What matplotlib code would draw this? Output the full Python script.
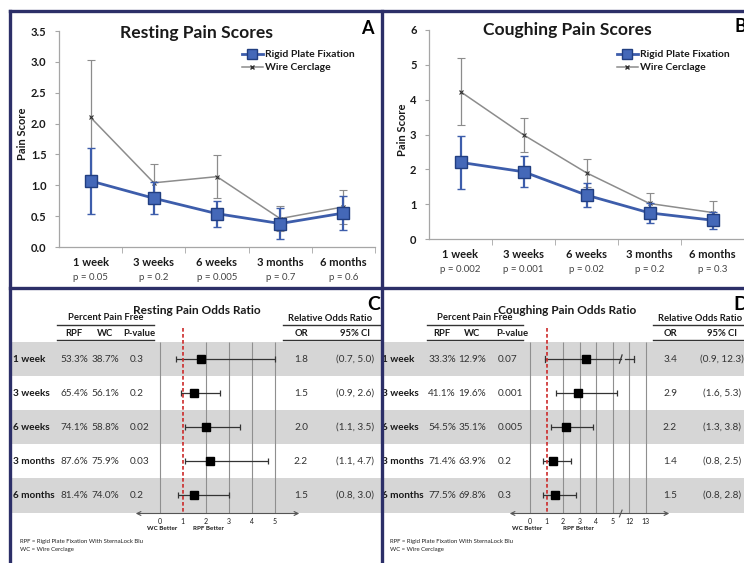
import numpy as np
import matplotlib
matplotlib.use('Agg')
import matplotlib.pyplot as plt
from matplotlib.lines import Line2D
from matplotlib.patches import Rectangle

plt.rcParams['font.family'] = ['Lato', 'DejaVu Sans']

# ---------------- data ----------------
timepoints = ['1 week', '3 weeks', '6 weeks', '3 months', '6 months']

rest_rpf = [1.07, 0.79, 0.54, 0.38, 0.55]
rest_rpf_err = [0.53, 0.26, 0.21, 0.25, 0.28]
rest_wc = [2.10, 1.04, 1.14, 0.46, 0.65]
rest_wc_err = [0.93, 0.30, 0.35, 0.20, 0.28]
rest_p = ['0.05', '0.2', '0.005', '0.7', '0.6']

cough_rpf = [2.20, 1.93, 1.26, 0.75, 0.54]
cough_rpf_err = [0.77, 0.44, 0.35, 0.28, 0.24]
cough_wc = [4.23, 2.99, 1.90, 1.02, 0.76]
cough_wc_err = [0.97, 0.49, 0.41, 0.31, 0.33]
cough_p = ['0.002', '0.001', '0.02', '0.2', '0.3']

rest_pct_rpf = [53.3, 65.4, 74.1, 87.6, 81.4]
rest_pct_wc = [38.7, 56.1, 58.8, 75.9, 74.0]
rest_pval = ['0.3', '0.2', '0.02', '0.03', '0.2']
rest_or = [1.8, 1.5, 2.0, 2.2, 1.5]
rest_lo = [0.7, 0.9, 1.1, 1.1, 0.8]
rest_hi = [5.0, 2.6, 3.5, 4.7, 3.0]

cough_pct_rpf = [33.3, 41.1, 54.5, 71.4, 77.5]
cough_pct_wc = [12.9, 19.6, 35.1, 63.9, 69.8]
cough_pval = ['0.07', '0.001', '0.005', '0.2', '0.3']
cough_or = [3.4, 2.9, 2.2, 1.4, 1.5]
cough_lo = [0.9, 1.6, 1.3, 0.8, 0.8]
cough_hi = [12.3, 5.3, 3.8, 2.5, 2.8]

# ---------------- layout helpers ----------------
W, H = 744, 563
fig = plt.figure(figsize=(W / 100, H / 100), dpi=100)
fig.patch.set_facecolor('white')


def rect(x0, y0, x1, y1):
    """pixel box (top-left origin) -> figure fraction rect"""
    return [x0 / W, 1 - y1 / H, (x1 - x0) / W, (y1 - y0) / H]


NAVY = '#2c2f68'
BLUE = '#3d5dab'
BLUE_F = '#4468b8'
BLUE_E = '#213e80'
GRAY = '#8c8c8c'
TXT = '#1a1a1a'
BAND = '#d6d6d6'
TFS = 7.2   # table font size

# background pixel axes for tables / text
pax = fig.add_axes([0, 0, 1, 1], zorder=0)
pax.set_xlim(0, W)
pax.set_ylim(H, 0)
pax.axis('off')


def score_panel(box, vals_rpf, err_rpf, vals_wc, err_wc, pvals, ymax, ystep,
                yfmt, title, title_xy, letter, letter_xy, leg_xy, ylab_x, name_y, p_y):
    ax = fig.add_axes(rect(*box), zorder=1)
    ax.set_facecolor('none')
    x = np.arange(len(timepoints))
    ax.errorbar(x, vals_wc, yerr=err_wc, color=GRAY, lw=1.1, marker='x', ms=3.5,
                mec='#333333', mew=0.8, ecolor=GRAY, elinewidth=0.9, capsize=3,
                capthick=0.9, zorder=2)
    ax.errorbar(x, vals_rpf, yerr=err_rpf, color=BLUE, lw=2.0, marker='s', ms=8,
                mfc=BLUE_F, mec=BLUE_E, mew=1.0, ecolor=BLUE, elinewidth=1.6,
                capsize=3, capthick=1.4, zorder=3)
    ax.set_xlim(-0.5, len(timepoints) - 0.5)
    ax.set_ylim(0, ymax)
    ax.set_yticks(np.arange(0, ymax + 1e-9, ystep))
    ax.yaxis.set_major_formatter(matplotlib.ticker.FormatStrFormatter(yfmt))
    for s in ['top', 'right']:
        ax.spines[s].set_visible(False)
    for s in ['left', 'bottom']:
        ax.spines[s].set_color('#a6a6a6')
        ax.spines[s].set_linewidth(0.9)
    ax.tick_params(axis='y', length=3, color='#a6a6a6', labelsize=8, pad=6,
                   labelcolor=TXT)
    for lab in ax.get_yticklabels():
        lab.set_fontweight('bold')
    ax.set_xticks(x)
    ax.set_xticklabels([])
    ax.tick_params(axis='x', which='major', length=0)
    ax.set_xticks(np.arange(0.5, len(timepoints), 1.0), minor=True)
    ax.tick_params(axis='x', which='minor', length=4, color='#a6a6a6')
    bx0, by0, bx1, by1 = box
    for i, (nm, p) in enumerate(zip(timepoints, pvals)):
        px = bx0 + (bx1 - bx0) * (i + 0.5) / len(timepoints)
        pax.text(px, name_y, nm, ha='center', va='center', fontsize=8,
                 fontweight='bold', color=TXT)
        pax.text(px, p_y, 'p = ' + p, ha='center', va='center', fontsize=7,
                 color='#444444')
    pax.text(ylab_x, (by0 + by1) / 2 - 5, 'Pain Score', rotation=90, ha='center',
             va='center', fontsize=8, fontweight='bold', color=TXT)
    pax.text(title_xy[0], title_xy[1], title, ha='center', va='center',
             fontsize=12.6, fontweight='bold', color=TXT)
    pax.text(letter_xy[0], letter_xy[1], letter, ha='center', va='center',
             fontsize=13, fontweight='bold', color='black')
    handles = [Line2D([], [], color=BLUE, lw=2.0, marker='s', ms=7, mfc=BLUE_F,
                      mec=BLUE_E),
               Line2D([], [], color=GRAY, lw=1.1, marker='x', ms=3.5, mec='#333333')]
    leg = ax.legend(handles, ['Rigid Plate Fixation', 'Wire Cerclage'],
                    loc='upper left', bbox_to_anchor=(leg_xy[0] / W, 1 - leg_xy[1] / H),
                    bbox_transform=fig.transFigure, frameon=False,
                    prop={'size': 7.5, 'weight': 'bold'}, handlelength=2.0,
                    handletextpad=0.2, labelspacing=0.35, borderpad=0,
                    borderaxespad=0)
    for t in leg.get_texts():
        t.set_color(TXT)
    return ax


score_panel((59, 31, 375, 247), rest_rpf, rest_rpf_err, rest_wc, rest_wc_err,
            rest_p, 3.5, 0.5, '%.1f', 'Resting Pain Scores', (197, 33), 'A',
            (367, 28), (242, 50), 23, 263, 277)
score_panel((429, 30, 744, 239), cough_rpf, cough_rpf_err, cough_wc, cough_wc_err,
            cough_p, 6, 1, '%d', 'Coughing Pain Scores', (567, 30), 'B',
            (740, 26), (617, 50), 402, 254, 269)


# ---------------- forest panels ----------------
ROW_TOP = 342.0
ROW_H = 34.1


def forest_panel(x_left, x_right, cols, pct_rpf, pct_wc, pvals, ors, los, his,
                 title, title_x, letter, letter_x, fbox, x0px, unit, ticks,
                 tick_labels, brk, hdr_left, hdr_right, better_x, foot_x):
    n = len(timepoints)
    # row bands
    for i in range(n):
        if i % 2 == 0:
            pax.add_patch(Rectangle((x_left, ROW_TOP + i * ROW_H), x_right - x_left,
                                    ROW_H, facecolor=BAND, edgecolor='none', zorder=0))
    pax.text(title_x, 310, title, ha='center', va='center', fontsize=8.6,
             fontweight='bold', color=TXT)
    pax.text(letter_x, 305, letter, ha='center', va='center', fontsize=14,
             fontweight='bold', color='black')
    # headers
    pax.text((hdr_left[0] + hdr_left[1]) / 2, 318, 'Percent Pain Free', ha='center',
             va='center', fontsize=6.8, fontweight='bold', color=TXT)
    pax.text(cols['rel'], 318.5, 'Relative Odds Ratio', ha='center', va='center',
             fontsize=6.8, fontweight='bold', color=TXT)
    for yy in (324.5, 340):
        pax.plot(hdr_left, [yy, yy], color='#333333', lw=1.0)
        pax.plot(hdr_right, [yy, yy], color='#333333', lw=1.0)
    for key, lab in (('rpf', 'RPF'), ('wc', 'WC'), ('ph', 'P-value'), ('or', 'OR'),
                     ('ci', '95% CI')):
        pax.text(cols[key], 333, lab, ha='center', va='center', fontsize=6.8,
                 fontweight='bold', color=TXT)
    for i in range(n):
        yy = ROW_TOP + (i + 0.5) * ROW_H
        pax.text(cols['lab'], yy, timepoints[i], ha='left', va='center', fontsize=TFS,
                 fontweight='bold', color=TXT)
        pax.text(cols['rpf'], yy, '%.1f%%' % pct_rpf[i], ha='center', va='center',
                 fontsize=TFS, color='#333333')
        pax.text(cols['wc'], yy, '%.1f%%' % pct_wc[i], ha='center', va='center',
                 fontsize=TFS, color='#333333')
        pax.text(cols['p'], yy, pvals[i], ha='left', va='center', fontsize=TFS,
                 color='#333333')
        pax.text(cols['or'], yy, '%.1f' % ors[i], ha='center', va='center',
                 fontsize=TFS, color='#333333')
        pax.text(cols['ci'], yy, '(%.1f, %.1f)' % (los[i], his[i]), ha='center',
                 va='center', fontsize=TFS, color='#333333')
    pax.text(better_x[0], 528, 'WC Better', ha='center', va='center', fontsize=4.5,
             fontweight='bold', color=TXT)
    pax.text(better_x[1], 528, 'RPF Better', ha='center', va='center', fontsize=4.5,
             fontweight='bold', color=TXT)
    pax.text(foot_x, 541, 'RPF = Rigid Plate Fixation With SternaLock Blu',
             ha='left', va='center', fontsize=4.3, color='#222222')
    pax.text(foot_x, 550, 'WC = Wire Cerclage', ha='left', va='center',
             fontsize=4.3, color='#222222')

    # forest axes: data coordinates
    fx0, fy0, fx1, fy1 = fbox
    fa = fig.add_axes(rect(fx0, fy0, fx1, fy1), zorder=2)
    fa.set_facecolor('none')
    fa.set_xlim((fx0 - x0px) / unit, (fx1 - x0px) / unit)
    y_top = -0.5 - (ROW_TOP - fy0) / ROW_H
    y_bot = n - 0.5 + (fy1 - (ROW_TOP + n * ROW_H)) / ROW_H
    fa.set_ylim(y_bot, y_top)
    tpos = [brk(t) for t in ticks]
    fa.vlines([tp for tp, t in zip(tpos, ticks) if t != 1], -0.5, n - 0.5,
              color='#8f8f8f', lw=0.8, zorder=1)
    fa.vlines(brk(1), y_top, n - 0.5, color='#cc2a2a', lw=1.2,
              linestyles=(0, (2.2, 1.4)), zorder=3)
    rows = np.arange(n)
    for i in rows:
        lo, hi, o = los[i], his[i], ors[i]
        if hi > 6:
            fa.plot([brk(lo), 5.5], [i, i], color='#333333', lw=0.9, zorder=2)
            fa.plot([5.75, brk(hi)], [i, i], color='#333333', lw=0.9, zorder=2)
            fa.plot([brk(lo), brk(lo)], [i - 0.09, i + 0.09], color='#333333',
                    lw=0.9)
            fa.plot([brk(hi), brk(hi)], [i - 0.09, i + 0.09], color='#333333',
                    lw=0.9)
            fa.plot([5.42, 5.58], [i + 0.12, i - 0.12], color='#333333', lw=0.9)
        else:
            fa.errorbar([o], [i], xerr=[[o - lo], [hi - o]], fmt='none',
                        ecolor='#333333', elinewidth=0.9, capsize=2.5,
                        capthick=0.9, zorder=2)
    fa.plot(ors, rows, 's', color='black', ms=6, zorder=4, linestyle='none')
    y_arrow = n - 0.5 + 1.0 / ROW_H
    fa.annotate('', xy=(fa.get_xlim()[0], y_arrow), xytext=(fa.get_xlim()[1], y_arrow),
                arrowprops=dict(arrowstyle='<->', color='#555555', lw=0.8,
                                mutation_scale=7), annotation_clip=False)
    if max(ticks) > 6:
        fa.plot([5.42, 5.58], [y_arrow + 0.1, y_arrow - 0.1], color='#555555',
                lw=0.8, clip_on=False)
    fa.set_xticks(tpos)
    fa.set_xticklabels(tick_labels, fontsize=5, color=TXT)
    fa.tick_params(axis='x', length=0, pad=2)
    fa.set_yticks([])
    for s in fa.spines.values():
        s.set_visible(False)
    return fa


forest_panel(12, 381,
             {'lab': 13, 'rpf': 74, 'wc': 105, 'p': 130, 'ph': 139, 'or': 301,
              'ci': 355, 'rel': 330},
             rest_pct_rpf, rest_pct_wc, rest_pval, rest_or, rest_lo, rest_hi,
             'Resting Pain Odds Ratio', 197, 'C', 374,
             (133, 328, 302, 515), 160.0, 22.9, [0, 1, 2, 3, 4, 5],
             ['0', '1', '2', '3', '4', '5'], lambda v: v,
             (57, 154), (283, 381), (162, 208), 20)

forest_panel(384, 744,
             {'lab': 382, 'rpf': 442, 'wc': 472, 'p': 498, 'ph': 512, 'or': 670,
              'ci': 722, 'rel': 700},
             cough_pct_rpf, cough_pct_wc, cough_pval, cough_or, cough_lo, cough_hi,
             'Coughing Pain Odds Ratio', 567, 'D', 741,
             (507, 328, 672, 515), 530.0, 16.5, [0, 1, 2, 3, 4, 5, 12, 13],
             ['0', '1', '2', '3', '4', '5', '12', '13'],
             lambda v: v if v <= 6 else v - 6,
             (427, 523), (653, 744), (527, 578), 390)

# ---------------- panel borders ----------------
for xs, ys in (([10, W], [11, 11]), ([10, W], [288, 288]), ([10, 10], [11, H]),
               ([382, 382], [11, H])):
    fig.add_artist(Line2D([x / W for x in xs], [1 - y / H for y in ys], color=NAVY,
                          lw=2.4, zorder=10, solid_capstyle='projecting'))

fig.savefig('out.png', dpi=100, facecolor='white')
